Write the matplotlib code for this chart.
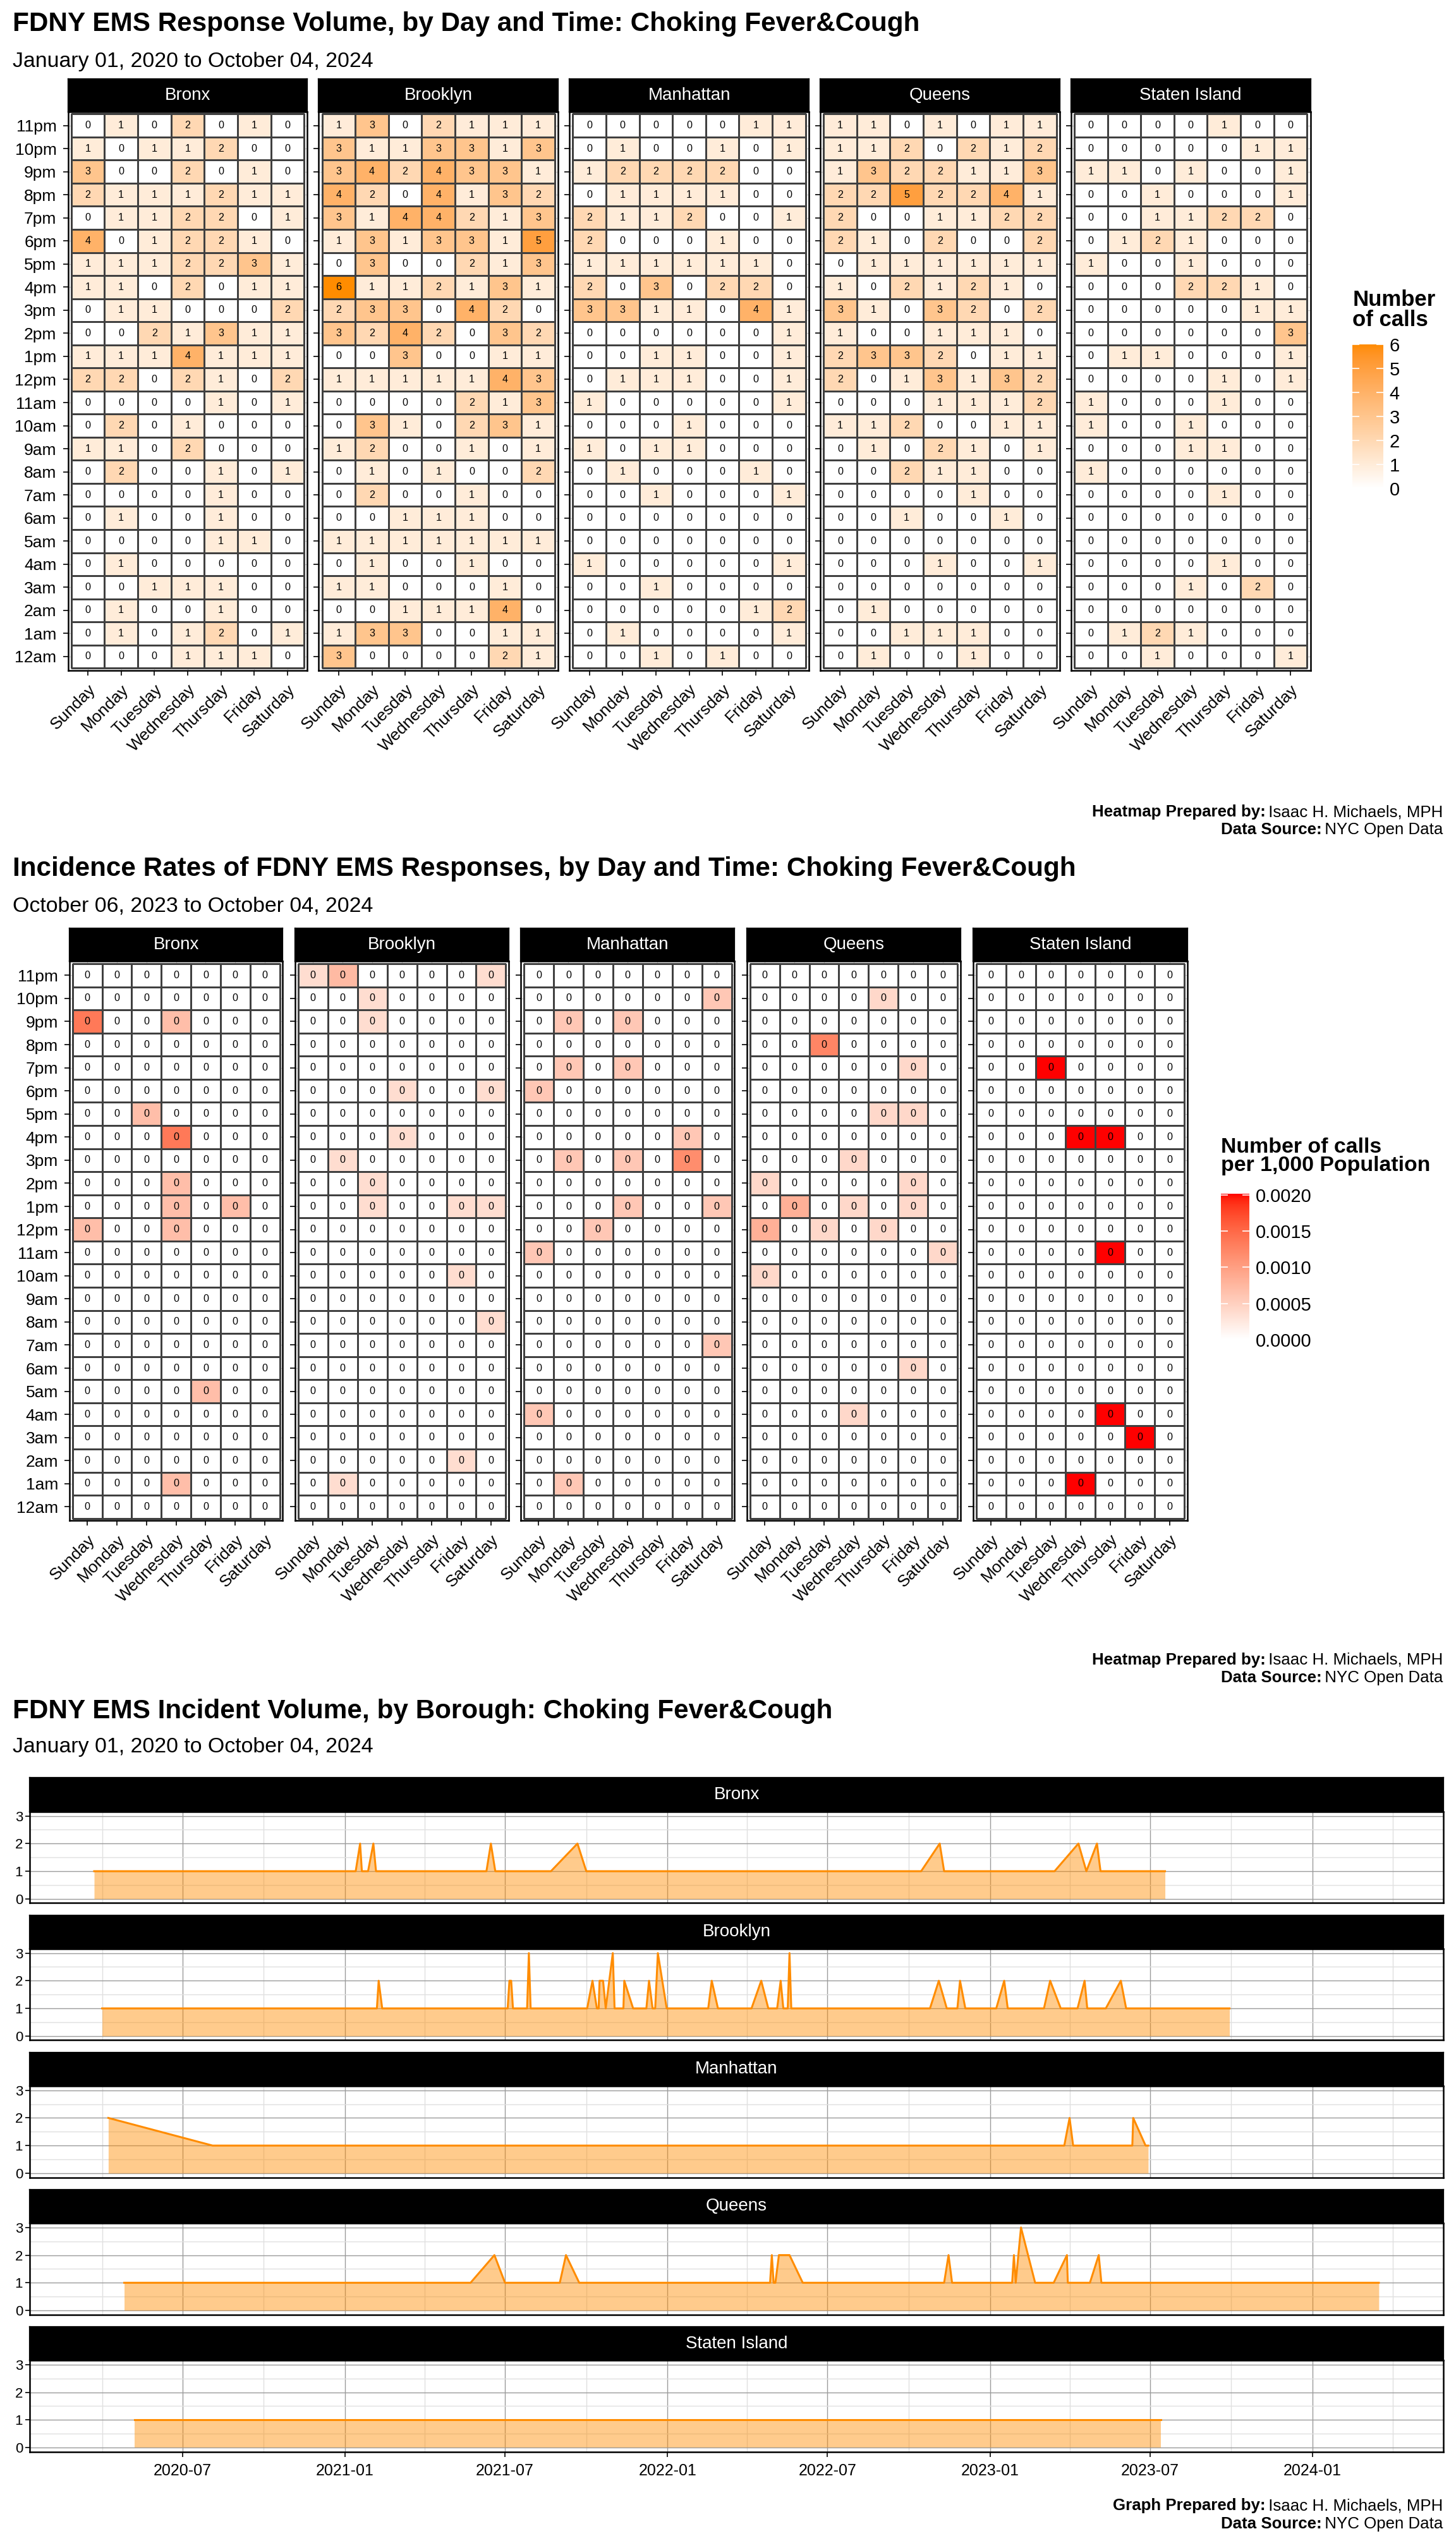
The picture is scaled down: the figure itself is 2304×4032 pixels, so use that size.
import numpy as np
import pandas as pd
import matplotlib
matplotlib.use("Agg")
import matplotlib.pyplot as plt
import matplotlib.dates as mdates
from matplotlib.colors import ListedColormap, Normalize
from matplotlib.cm import ScalarMappable

plt.rcParams['font.family'] = ['Liberation Sans', 'DejaVu Sans']

# ---- data ----
boroughs = ["Bronx", "Brooklyn", "Manhattan", "Queens", "Staten Island"]
days = ["Sunday", "Monday", "Tuesday", "Wednesday", "Thursday", "Friday", "Saturday"]
hours = ["11pm", "10pm", "9pm", "8pm", "7pm", "6pm", "5pm", "4pm", "3pm", "2pm", "1pm", "12pm",
         "11am", "10am", "9am", "8am", "7am", "6am", "5am", "4am", "3am", "2am", "1am", "12am"]

# calls by hour (rows, 11pm -> 12am) and weekday (cols, Sunday -> Saturday)
calls_bronx = [
    [0, 1, 0, 2, 0, 1, 0], [1, 0, 1, 1, 2, 0, 0], [3, 0, 0, 2, 0, 1, 0], [2, 1, 1, 1, 2, 1, 1],
    [0, 1, 1, 2, 2, 0, 1], [4, 0, 1, 2, 2, 1, 0], [1, 1, 1, 2, 2, 3, 1], [1, 1, 0, 2, 0, 1, 1],
    [0, 1, 1, 0, 0, 0, 2], [0, 0, 2, 1, 3, 1, 1], [1, 1, 1, 4, 1, 1, 1], [2, 2, 0, 2, 1, 0, 2],
    [0, 0, 0, 0, 1, 0, 1], [0, 2, 0, 1, 0, 0, 0], [1, 1, 0, 2, 0, 0, 0], [0, 2, 0, 0, 1, 0, 1],
    [0, 0, 0, 0, 1, 0, 0], [0, 1, 0, 0, 1, 0, 0], [0, 0, 0, 0, 1, 1, 0], [0, 1, 0, 0, 0, 0, 0],
    [0, 0, 1, 1, 1, 0, 0], [0, 1, 0, 0, 1, 0, 0], [0, 1, 0, 1, 2, 0, 1], [0, 0, 0, 1, 1, 1, 0]]
calls_brooklyn = [
    [1, 3, 0, 2, 1, 1, 1], [3, 1, 1, 3, 3, 1, 3], [3, 4, 2, 4, 3, 3, 1], [4, 2, 0, 4, 1, 3, 2],
    [3, 1, 4, 4, 2, 1, 3], [1, 3, 1, 3, 3, 1, 5], [0, 3, 0, 0, 2, 1, 3], [6, 1, 1, 2, 1, 3, 1],
    [2, 3, 3, 0, 4, 2, 0], [3, 2, 4, 2, 0, 3, 2], [0, 0, 3, 0, 0, 1, 1], [1, 1, 1, 1, 1, 4, 3],
    [0, 0, 0, 0, 2, 1, 3], [0, 3, 1, 0, 2, 3, 1], [1, 2, 0, 0, 1, 0, 1], [0, 1, 0, 1, 0, 0, 2],
    [0, 2, 0, 0, 1, 0, 0], [0, 0, 1, 1, 1, 0, 0], [1, 1, 1, 1, 1, 1, 1], [0, 1, 0, 0, 1, 0, 0],
    [1, 1, 0, 0, 0, 1, 0], [0, 0, 1, 1, 1, 4, 0], [1, 3, 3, 0, 0, 1, 1], [3, 0, 0, 0, 0, 2, 1]]
calls_manhattan = [
    [0, 0, 0, 0, 0, 1, 1], [0, 1, 0, 0, 1, 0, 1], [1, 2, 2, 2, 2, 0, 0], [0, 1, 1, 1, 1, 0, 0],
    [2, 1, 1, 2, 0, 0, 1], [2, 0, 0, 0, 1, 0, 0], [1, 1, 1, 1, 1, 1, 0], [2, 0, 3, 0, 2, 2, 0],
    [3, 3, 1, 1, 0, 4, 1], [0, 0, 0, 0, 0, 0, 1], [0, 0, 1, 1, 0, 0, 1], [0, 1, 1, 1, 0, 0, 1],
    [1, 0, 0, 0, 0, 0, 1], [0, 0, 0, 1, 0, 0, 0], [1, 0, 1, 1, 0, 0, 0], [0, 1, 0, 0, 0, 1, 0],
    [0, 0, 1, 0, 0, 0, 1], [0, 0, 0, 0, 0, 0, 0], [0, 0, 0, 0, 0, 0, 0], [1, 0, 0, 0, 0, 0, 1],
    [0, 0, 1, 0, 0, 0, 0], [0, 0, 0, 0, 0, 1, 2], [0, 1, 0, 0, 0, 0, 1], [0, 0, 1, 0, 1, 0, 0]]
calls_queens = [
    [1, 1, 0, 1, 0, 1, 1], [1, 1, 2, 0, 2, 1, 2], [1, 3, 2, 2, 1, 1, 3], [2, 2, 5, 2, 2, 4, 1],
    [2, 0, 0, 1, 1, 2, 2], [2, 1, 0, 2, 0, 0, 2], [0, 1, 1, 1, 1, 1, 1], [1, 0, 2, 1, 2, 1, 0],
    [3, 1, 0, 3, 2, 0, 2], [1, 0, 0, 1, 1, 1, 0], [2, 3, 3, 2, 0, 1, 1], [2, 0, 1, 3, 1, 3, 2],
    [0, 0, 0, 1, 1, 1, 2], [1, 1, 2, 0, 0, 1, 1], [0, 1, 0, 2, 1, 0, 1], [0, 0, 2, 1, 1, 0, 0],
    [0, 0, 0, 0, 1, 0, 0], [0, 0, 1, 0, 0, 1, 0], [0, 0, 0, 0, 0, 0, 0], [0, 0, 0, 1, 0, 0, 1],
    [0, 0, 0, 0, 0, 0, 0], [0, 1, 0, 0, 0, 0, 0], [0, 0, 1, 1, 1, 0, 0], [0, 1, 0, 0, 1, 0, 0]]
calls_staten = [
    [0, 0, 0, 0, 1, 0, 0], [0, 0, 0, 0, 0, 1, 1], [1, 1, 0, 1, 0, 0, 1], [0, 0, 1, 0, 0, 0, 1],
    [0, 0, 1, 1, 2, 2, 0], [0, 1, 2, 1, 0, 0, 0], [1, 0, 0, 1, 0, 0, 0], [0, 0, 0, 2, 2, 1, 0],
    [0, 0, 0, 0, 0, 1, 1], [0, 0, 0, 0, 0, 0, 3], [0, 1, 1, 0, 0, 0, 1], [0, 0, 0, 0, 1, 0, 1],
    [1, 0, 0, 0, 1, 0, 0], [1, 0, 0, 1, 0, 0, 0], [0, 0, 0, 1, 1, 0, 0], [1, 0, 0, 0, 0, 0, 0],
    [0, 0, 0, 0, 1, 0, 0], [0, 0, 0, 0, 0, 0, 0], [0, 0, 0, 0, 0, 0, 0], [0, 0, 0, 0, 1, 0, 0],
    [0, 0, 0, 1, 0, 2, 0], [0, 0, 0, 0, 0, 0, 0], [0, 1, 2, 1, 0, 0, 0], [0, 0, 1, 0, 0, 0, 1]]

# last-year calls (hour, day, calls); every other cell is zero
recent_bronx = [("9pm", "Sunday", 2), ("9pm", "Wednesday", 1), ("5pm", "Tuesday", 1),
                ("4pm", "Wednesday", 2), ("2pm", "Wednesday", 1), ("1pm", "Wednesday", 1),
                ("1pm", "Friday", 1), ("12pm", "Sunday", 1), ("12pm", "Wednesday", 1),
                ("5am", "Thursday", 1), ("1am", "Wednesday", 1)]
recent_brooklyn = [("11pm", "Sunday", 1), ("11pm", "Monday", 2), ("11pm", "Saturday", 1),
                   ("10pm", "Tuesday", 1), ("9pm", "Tuesday", 1), ("6pm", "Wednesday", 1),
                   ("6pm", "Saturday", 1), ("4pm", "Wednesday", 1), ("3pm", "Monday", 1),
                   ("2pm", "Tuesday", 1), ("1pm", "Tuesday", 1), ("1pm", "Friday", 1),
                   ("1pm", "Saturday", 1), ("10am", "Friday", 1), ("8am", "Saturday", 1),
                   ("2am", "Friday", 1), ("1am", "Monday", 1)]
recent_manhattan = [("10pm", "Saturday", 1), ("9pm", "Monday", 1), ("9pm", "Wednesday", 1),
                    ("7pm", "Monday", 1), ("7pm", "Wednesday", 1), ("6pm", "Sunday", 1),
                    ("4pm", "Friday", 1), ("3pm", "Monday", 1), ("3pm", "Wednesday", 1),
                    ("3pm", "Friday", 2), ("1pm", "Wednesday", 1), ("1pm", "Saturday", 1),
                    ("12pm", "Tuesday", 1), ("11am", "Sunday", 1), ("7am", "Saturday", 1),
                    ("4am", "Sunday", 1), ("1am", "Monday", 1)]
recent_queens = [("10pm", "Thursday", 1), ("8pm", "Tuesday", 3), ("7pm", "Friday", 1),
                 ("5pm", "Thursday", 1), ("5pm", "Friday", 1), ("3pm", "Wednesday", 1),
                 ("2pm", "Sunday", 1), ("2pm", "Friday", 1), ("1pm", "Monday", 2),
                 ("1pm", "Wednesday", 1), ("1pm", "Friday", 1), ("12pm", "Sunday", 2),
                 ("12pm", "Tuesday", 1), ("12pm", "Thursday", 1), ("11am", "Saturday", 1),
                 ("10am", "Sunday", 1), ("6am", "Friday", 1), ("4am", "Wednesday", 1)]
recent_staten = [("7pm", "Tuesday", 1), ("4pm", "Wednesday", 1), ("4pm", "Thursday", 1),
                 ("11am", "Thursday", 1), ("4am", "Thursday", 1), ("3am", "Friday", 1),
                 ("1am", "Wednesday", 1)]
population = [1472654, 2736074, 1694251, 2405464, 495747]

# daily incident counts (dates where the line changes)
ts_bronx_dates = ["2020-03-23", "2021-01-13", "2021-01-18", "2021-01-20", "2021-01-27", "2021-02-02",
                  "2021-02-05", "2021-06-10", "2021-06-15", "2021-06-20", "2021-08-22", "2021-09-21",
                  "2021-10-01", "2022-10-15", "2022-11-05", "2022-11-10", "2023-03-15", "2023-04-11",
                  "2023-04-20", "2023-05-02", "2023-05-06", "2023-07-18"]
ts_bronx_counts = [1, 1, 2, 1, 1, 2, 1, 1, 2, 1, 1, 2, 1, 1, 2, 1, 1, 2, 1, 2, 1, 1]
ts_brooklyn_dates = ["2020-04-01", "2021-02-06", "2021-02-08", "2021-02-12", "2021-07-04", "2021-07-06",
                     "2021-07-08", "2021-07-10", "2021-07-26", "2021-07-28", "2021-07-30", "2021-10-02",
                     "2021-10-08", "2021-10-13", "2021-10-15", "2021-10-16", "2021-10-20", "2021-10-23",
                     "2021-10-31", "2021-11-02", "2021-11-12", "2021-11-13", "2021-11-23", "2021-12-08",
                     "2021-12-11", "2021-12-15", "2021-12-18", "2021-12-21", "2021-12-31", "2022-02-16",
                     "2022-02-20", "2022-02-27", "2022-04-06", "2022-04-17", "2022-04-25", "2022-05-05",
                     "2022-05-09", "2022-05-12", "2022-05-17", "2022-05-19", "2022-05-21", "2022-10-25",
                     "2022-11-04", "2022-11-13", "2022-11-25", "2022-11-28", "2022-12-04", "2023-01-08",
                     "2023-01-17", "2023-01-21", "2023-03-03", "2023-03-10", "2023-03-22", "2023-04-10",
                     "2023-04-18", "2023-04-21", "2023-05-12", "2023-05-29", "2023-06-04", "2023-09-29"]
ts_brooklyn_counts = [1, 1, 2, 1, 1, 2, 2, 1, 1, 3, 1, 1, 2, 1, 1, 2, 2, 1, 3, 1, 1, 2, 1, 1,
                      2, 1, 1, 3, 1, 1, 2, 1, 1, 2, 1, 1, 2, 1, 1, 3, 1, 1, 2, 1, 1, 2, 1, 1,
                      2, 1, 1, 2, 1, 1, 2, 1, 1, 2, 1, 1]
ts_manhattan_dates = ["2020-04-08", "2020-08-04", "2023-03-26", "2023-04-01", "2023-04-05",
                      "2023-06-11", "2023-06-12", "2023-06-26", "2023-06-29"]
ts_manhattan_counts = [2, 1, 1, 2, 1, 1, 2, 1, 1]
ts_queens_dates = ["2020-04-26", "2021-05-23", "2021-06-19", "2021-07-01", "2021-09-01", "2021-09-08",
                   "2021-09-23", "2022-04-27", "2022-04-29", "2022-05-01", "2022-05-03", "2022-05-07",
                   "2022-05-19", "2022-06-03", "2022-11-10", "2022-11-15", "2022-11-19", "2023-01-26",
                   "2023-01-28", "2023-01-30", "2023-02-05", "2023-02-21", "2023-03-14", "2023-03-29",
                   "2023-03-30", "2023-04-24", "2023-05-04", "2023-05-07", "2024-03-16"]
ts_queens_counts = [1, 1, 2, 1, 1, 2, 1, 1, 2, 1, 1, 2, 2, 1, 1, 2, 1, 1, 2, 1, 3, 1, 1, 2,
                    1, 1, 2, 1, 1]
ts_staten_dates = ["2020-05-08", "2023-07-13"]
ts_staten_counts = [1, 1]

all_calls = [calls_bronx, calls_brooklyn, calls_manhattan, calls_queens, calls_staten]
all_recent = [recent_bronx, recent_brooklyn, recent_manhattan, recent_queens, recent_staten]
all_ts = [(ts_bronx_dates, ts_bronx_counts), (ts_brooklyn_dates, ts_brooklyn_counts),
          (ts_manhattan_dates, ts_manhattan_counts), (ts_queens_dates, ts_queens_counts),
          (ts_staten_dates, ts_staten_counts)]


# ---- colour helpers: ggplot-like gradient interpolated in Lab ----
def _lin(c):
    c = np.asarray(c, float)
    return np.where(c <= 0.04045, c / 12.92, ((c + 0.055) / 1.055) ** 2.4)


def _gam(c):
    c = np.clip(c, 0, 1)
    return np.where(c <= 0.0031308, 12.92 * c, 1.055 * c ** (1 / 2.4) - 0.055)


M = np.array([[0.4124, 0.3576, 0.1805], [0.2126, 0.7152, 0.0722], [0.0193, 0.1192, 0.9505]])
WP = np.array([0.95047, 1.0, 1.08883])
D = 6 / 29


def to_lab(rgb):
    xyz = M @ _lin(rgb) / WP
    f = np.where(xyz > D ** 3, np.cbrt(xyz), xyz / (3 * D ** 2) + 4 / 29)
    return np.array([116 * f[1] - 16, 500 * (f[0] - f[1]), 200 * (f[1] - f[2])])


def from_lab(lab):
    fy = (lab[..., 0] + 16) / 116
    f = np.stack([fy + lab[..., 1] / 500, fy, fy - lab[..., 2] / 200], axis=-1)
    xyz = np.where(f > D, f ** 3, 3 * D ** 2 * (f - 4 / 29)) * WP
    return _gam(xyz @ np.linalg.inv(M).T)


def lab_cmap(c0, c1):
    t = np.linspace(0, 1, 256)[:, None]
    lab = (1 - t) * to_lab(c0) + t * to_lab(c1)
    return ListedColormap(from_lab(lab))


orange_cmap = lab_cmap([1, 1, 1], [1, 140 / 255, 0])
red_cmap = lab_cmap([1, 1, 1], [1, 0, 0])

# ---- figure / layout helpers (positions in 900x1575 reference units) ----
fig = plt.figure(figsize=(11.52, 20.16), dpi=200)
W, H = 900.0, 1575.0


def box(x0, y0, x1, y1):
    return [x0 / W, 1 - y1 / H, (x1 - x0) / W, (y1 - y0) / H]


def strip(x0, y0, x1, y1, label, size=10):
    s = fig.add_axes(box(x0, y0, x1, y1))
    s.set_facecolor("black")
    s.set_xticks([])
    s.set_yticks([])
    s.text(0.5, 0.5, label, color="white", ha="center", va="center", fontsize=size,
           transform=s.transAxes)


def caption(y, bold, normal):
    r = fig.canvas.get_renderer()
    t = fig.text(892 / W, 1 - y / H, normal, ha="right", va="center", fontsize=9.3)
    bb = t.get_window_extent(renderer=r)
    fig.text(bb.x0 / fig.bbox.width + 0.001, 1 - y / H, bold, ha="right", va="center",
             fontsize=9.3, fontweight="bold")


def heat(ax, grid, cmap, norm, show_y):
    grid = np.asarray(grid, float)
    ax.set_axisbelow(True)
    ax.grid(True, color="#d0d0d0", lw=0.4)
    ax.pcolormesh(np.arange(8) - 0.5, np.arange(25) - 0.5, grid, cmap=cmap, norm=norm,
                  edgecolors="#404040", linewidth=0.4)
    for i in range(24):
        for j in range(7):
            ax.text(j, i, f"{grid[i, j]:.0f}", ha="center", va="center", fontsize=5.8)
    ax.set_xlim(-0.6, 6.6)
    ax.set_ylim(23.6, -0.6)
    ax.set_xticks(range(7))
    ax.set_xticklabels(days, rotation=45, ha="right", va="top", rotation_mode="anchor")
    ax.set_yticks(range(24))
    ax.set_yticklabels(hours if show_y else [])
    ax.tick_params(labelsize=9.5, length=3, width=0.6, colors="black")
    for sp in ax.spines.values():
        sp.set_linewidth(0.9)


def colorbar(x0, y0, x1, y1, cmap, norm, ticks, fmt):
    cax = fig.add_axes(box(x0, y0, x1, y1))
    cb = fig.colorbar(ScalarMappable(norm=norm, cmap=cmap), cax=cax, ticks=ticks)
    cb.outline.set_visible(False)
    cax.set_yticklabels([fmt.format(v) for v in ticks])
    cax.tick_params(left=True, right=True, labelleft=False, labelright=True, direction="in",
                    color="white", length=4, width=0.6, labelsize=10.5)


# ---- titles ----
fig.text(8 / W, 1 - 15 / H, "FDNY EMS Response Volume, by Day and Time: Choking Fever&Cough",
         fontsize=15.2, fontweight="bold", va="center")
fig.text(8 / W, 1 - 38 / H, "January 01, 2020 to October 04, 2024", fontsize=12.2, va="center")
fig.text(8 / W, 1 - 537 / H,
         "Incidence Rates of FDNY EMS Responses, by Day and Time: Choking Fever&Cough",
         fontsize=15.2, fontweight="bold", va="center")
fig.text(8 / W, 1 - 560 / H, "October 06, 2023 to October 04, 2024", fontsize=12.2, va="center")
fig.text(8 / W, 1 - 1058 / H, "FDNY EMS Incident Volume, by Borough: Choking Fever&Cough",
         fontsize=15.2, fontweight="bold", va="center")
fig.text(8 / W, 1 - 1080 / H, "January 01, 2020 to October 04, 2024", fontsize=12.2, va="center")

# ---- heatmap 1: call counts ----
norm1 = Normalize(0, 6)
lefts1 = [42, 197, 352, 507, 662]
for k, name in enumerate(boroughs):
    x0 = lefts1[k]
    strip(x0, 48.7, x0 + 148, 69, name)
    ax = fig.add_axes(box(x0, 69, x0 + 148, 414.4))
    heat(ax, all_calls[k], orange_cmap, norm1, k == 0)

fig.text(836 / W, 1 - 179 / H, "Number\nof calls", fontsize=12.5, fontweight="bold",
         va="top", ha="left", linespacing=0.95)
colorbar(836, 213, 855, 302, orange_cmap, norm1, [0, 1, 2, 3, 4, 5, 6], "{:.0f}")
caption(502, "Heatmap Prepared by:", " Isaac H. Michaels, MPH")
caption(513, "Data Source:", " NYC Open Data")

# ---- heatmap 2: rate per 1,000 population ----
rates = []
for k in range(5):
    g = np.zeros((24, 7))
    for hr, dy, n in all_recent[k]:
        g[hours.index(hr), days.index(dy)] = n / population[k] * 1000
    rates.append(g)
norm2 = Normalize(0, max(g.max() for g in rates))
pos2 = [(43, 174.7), (182.5, 314.5), (322, 454), (461.7, 593.7), (601.6, 734)]
for k, name in enumerate(boroughs):
    x0, x1 = pos2[k]
    strip(x0, 574, x1, 594.3, name)
    ax = fig.add_axes(box(x0, 594.3, x1, 940))
    heat(ax, rates[k], red_cmap, norm2, k == 0)

fig.text(754.7 / W, 1 - 703 / H, "Number of calls\nper 1,000 Population", fontsize=12.2,
         fontweight="bold", va="top", ha="left", linespacing=0.95)
colorbar(754.7, 738, 772.4, 828, red_cmap, norm2, [0, 0.0005, 0.001, 0.0015, 0.002], "{:.4f}")
caption(1026, "Heatmap Prepared by:", " Isaac H. Michaels, MPH")
caption(1037, "Data Source:", " NYC Open Data")

# ---- time series panels ----
parsed = [(pd.to_datetime(d), c) for d, c in all_ts]
dmin = min(d.min() for d, _ in parsed)
dmax = max(d.max() for d, _ in parsed)
pad = (dmax - dmin) * 0.05
for k, name in enumerate(boroughs):
    top = 1099 + 84.8 * k
    strip(18.5, top, 892, top + 20.9, name)
    ax = fig.add_axes(box(18.5, top + 20.9, 892, top + 77.3))
    d, c = parsed[k]
    ax.fill_between(d, c, 0, color="darkorange", alpha=0.45, lw=0)
    ax.plot(d, c, color="darkorange", lw=1.1)
    ax.set_xlim(dmin - pad, dmax + pad)
    ax.set_ylim(-0.15, 3.15)
    ax.set_yticks([0, 1, 2, 3])
    ax.set_yticks([0.5, 1.5, 2.5], minor=True)
    ax.xaxis.set_major_locator(mdates.MonthLocator(bymonth=[1, 7]))
    ax.xaxis.set_minor_locator(mdates.MonthLocator(bymonth=[4, 10]))
    ax.xaxis.set_major_formatter(mdates.DateFormatter("%Y-%m"))
    ax.set_axisbelow(True)
    ax.grid(True, which="major", color="#9a9a9a", lw=0.5)
    ax.grid(True, which="minor", color="#e0e0e0", lw=0.5)
    ax.tick_params(axis="y", which="major", labelsize=8, length=2.5, width=0.6, pad=1.5)
    ax.tick_params(which="minor", length=0)
    if k < 4:
        ax.tick_params(axis="x", which="major", length=0, labelbottom=False)
    else:
        ax.tick_params(axis="x", which="major", labelsize=9, length=3, width=0.6)
    for sp in ax.spines.values():
        sp.set_linewidth(0.9)

caption(1549, "Graph Prepared by:", " Isaac H. Michaels, MPH")
caption(1560, "Data Source:", " NYC Open Data")

fig.savefig("out.png", dpi=200, facecolor="white")
